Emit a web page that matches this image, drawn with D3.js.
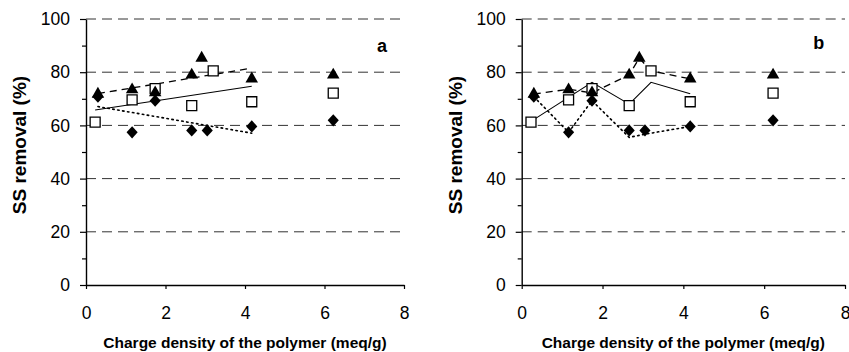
<!DOCTYPE html>
<html lang="en">
<head>
<meta charset="utf-8">
<title>SS removal vs charge density</title>
<script src="https://d3js.org/d3.v7.min.js"></script>
<style>
  body { margin: 0; background: #fff; }
  text { font-family: "Liberation Sans", Arial, sans-serif; fill: #000; }
</style>
</head>
<body>
<script>
// measured points (same data in both panels)
const squareX   = [0.23, 1.16, 1.74, 2.66, 3.20, 4.17, 6.22];
const squareY   = [61.2, 69.6, 73.8, 67.4, 80.5, 68.9, 72.1];
const triangleX = [0.30, 1.16, 1.74, 2.66, 2.91, 4.17, 6.22];
const triangleY = [71.8, 73.4, 72.3, 79.0, 85.3, 77.5, 79.0];
const diamondX  = [0.30, 1.16, 1.74, 2.66, 3.05, 4.17, 6.22];
const diamondY  = [70.8, 57.4, 69.3, 58.1, 58.1, 59.6, 61.9];

// connecting lines of panel b
const solidBX  = [0.23, 1.74, 2.66, 3.20, 4.17];
const solidBY  = [61.5, 76.2, 68.0, 76.2, 71.9];
const dashedBX = [0.30, 1.16, 1.74, 2.66, 2.91, 3.20, 4.17];
const dashedBY = [71.8, 73.6, 72.2, 79.0, 85.3, 80.5, 77.5];
const dottedBX = [0.30, 1.16, 1.74, 2.66, 3.05, 4.17];
const dottedBY = [70.8, 57.4, 69.3, 55.5, 56.7, 59.6];

const xTicks = [0, 2, 4, 6, 8];
const yTicks = [0, 20, 40, 60, 80, 100];
const yMinor = [10, 30, 50, 70, 90];
const gridValues = [20, 40, 60, 80, 100];

const W = 849, H = 352;
const plotTop = 19, plotBottom = 285;

const svg = d3.select("body").append("svg")
    .attr("width", W).attr("height", H);

const zip = (xs, ys) => xs.map((x, i) => [x, ys[i]]);

// least squares line over points left of the isolated 6.2 point
function linFit(xs, ys) {
    const pts = zip(xs, ys).filter(p => p[0] < 5);
    const mx = d3.mean(pts, p => p[0]), my = d3.mean(pts, p => p[1]);
    const sxy = d3.sum(pts, p => (p[0] - mx) * (p[1] - my));
    const sxx = d3.sum(pts, p => (p[0] - mx) ** 2);
    const b = sxy / sxx, a = my - b * mx;
    const x0 = d3.min(pts, p => p[0]), x1 = d3.max(pts, p => p[0]);
    return [[x0, a + b * x0], [x1, a + b * x1]];
}

const panels = [
    { name: "a", left: 86, right: 404, titleX: 20, labelDx: 296, labelY: 52,
      lines: [
        { pts: linFit(triangleX, triangleY), dash: "7,5", w: 1.3 },
        { pts: linFit(squareX, squareY), dash: null, w: 1.1 },
        { pts: linFit(diamondX, diamondY), dash: "1.5,3.5", w: 1.6 }
      ] },
    { name: "b", left: 521.7, right: 845, titleX: 455.7, labelDx: 297, labelY: 49,
      lines: [
        { pts: zip(dashedBX, dashedBY), dash: "7,5", w: 1.3 },
        { pts: zip(solidBX, solidBY), dash: null, w: 1.1 },
        { pts: zip(dottedBX, dottedBY), dash: "1.5,3.5", w: 1.6 }
      ] }
];

panels.forEach(function(p) {
    const x = d3.scaleLinear().domain([0, 8]).range([p.left, p.right]);
    const y = d3.scaleLinear().domain([0, 100]).range([plotBottom, plotTop]);
    const g = svg.append("g");

    // dashed gridlines
    g.selectAll(".grid").data(gridValues).enter().append("line")
        .attr("x1", x(0)).attr("x2", x(8))
        .attr("y1", d => y(d)).attr("y2", d => y(d))
        .attr("stroke", "#333").attr("stroke-width", 1)
        .attr("stroke-dasharray", "10,6");

    // y axis
    const ya = g.append("g").attr("transform", "translate(" + x(0) + ",0)")
        .call(d3.axisLeft(y).tickValues(yTicks).tickSize(6).tickSizeOuter(0).tickPadding(10));
    ya.select(".domain").attr("stroke", "#000").attr("stroke-width", 1.4);
    ya.selectAll(".tick line").attr("stroke", "#000").attr("stroke-width", 1.2);
    ya.selectAll("text").style("font-size", "17.5px").attr("font-family", null);

    const ym = g.append("g").attr("transform", "translate(" + x(0) + ",0)")
        .call(d3.axisLeft(y).tickValues(yMinor).tickSize(4).tickFormat(""));
    ym.select(".domain").remove();
    ym.selectAll(".tick line").attr("stroke", "#000").attr("stroke-width", 1.2);

    // x axis
    const xa = g.append("g").attr("transform", "translate(0," + y(0) + ")")
        .call(d3.axisBottom(x).tickValues(xTicks).tickSize(4).tickSizeOuter(0).tickPadding(18));
    xa.select(".domain").attr("stroke", "#000").attr("stroke-width", 1.4);
    xa.selectAll(".tick line").attr("stroke", "#000").attr("stroke-width", 1.2);
    xa.selectAll("text").style("font-size", "17.5px").attr("font-family", null);

    // axis titles
    g.append("text")
        .attr("x", (x(0) + x(8)) / 2).attr("y", 348)
        .attr("text-anchor", "middle")
        .style("font-size", "15.5px").style("font-weight", "bold")
        .text("Charge density of the polymer (meq/g)");

    g.append("text")
        .attr("transform", "translate(" + (p.titleX + 6) + ",145) rotate(-90)")
        .attr("text-anchor", "middle")
        .style("font-size", "19px").style("font-weight", "bold")
        .text("SS removal (%)");

    g.append("text")
        .attr("x", p.left + p.labelDx).attr("y", p.labelY)
        .attr("text-anchor", "middle")
        .style("font-size", "18px").style("font-weight", "bold")
        .text(p.name);

    // lines
    const line = d3.line().x(d => x(d[0])).y(d => y(d[1]));
    p.lines.forEach(function(l) {
        g.append("path").datum(l.pts)
            .attr("d", line)
            .attr("fill", "none").attr("stroke", "#000")
            .attr("stroke-width", l.w)
            .attr("stroke-linecap", l.dash && l.dash.startsWith("1.5") ? "round" : "butt")
            .attr("stroke-dasharray", l.dash);
    });

    // markers
    g.selectAll(".sq").data(zip(squareX, squareY)).enter().append("path")
        .attr("d", d3.symbol().type(d3.symbolSquare).size(100))
        .attr("transform", d => "translate(" + x(d[0]) + "," + y(d[1]) + ")")
        .attr("fill", "#fff").attr("stroke", "#000").attr("stroke-width", 1.3);

    g.selectAll(".tri").data(zip(triangleX, triangleY)).enter().append("path")
        .attr("d", d3.symbol().type(d3.symbolTriangle).size(68))
        .attr("transform", d => "translate(" + x(d[0]) + "," + y(d[1]) + ")")
        .attr("fill", "#000");

    // diamond: a square turned 45 degrees, slightly taller than wide
    g.selectAll(".dia").data(zip(diamondX, diamondY)).enter().append("path")
        .attr("d", d3.symbol().type(d3.symbolSquare).size(62))
        .attr("transform", d => "translate(" + x(d[0]) + "," + y(d[1]) + ") scale(1,1.1) rotate(45)")
        .attr("fill", "#000");
});
</script>
</body>
</html>
